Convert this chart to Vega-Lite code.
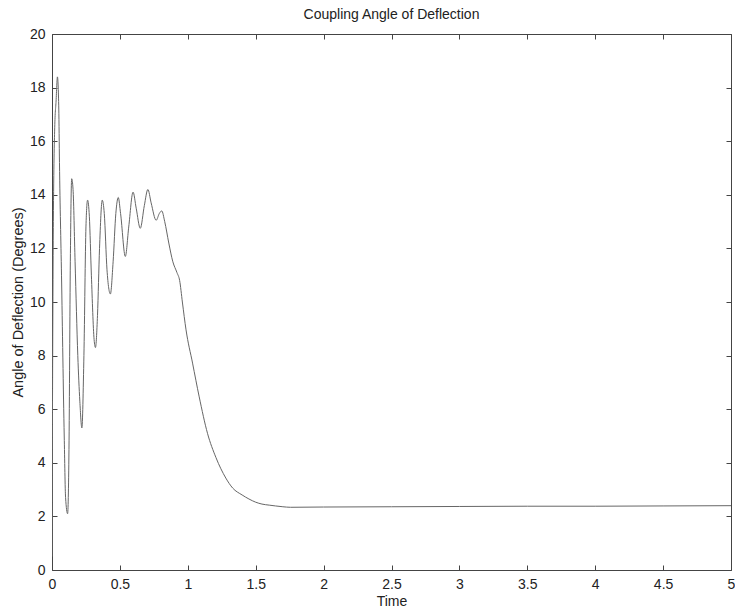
{
  "$schema": "https://vega.github.io/schema/vega-lite/v6.json",
  "width": 679,
  "height": 536,
  "autosize": {"type": "none"},
  "padding": {"left": 52, "top": 34, "right": 4, "bottom": 39},
  "background": "white",
  "title": {"text": "Coupling Angle of Deflection", "fontSize": 14, "fontWeight": "normal", "font": "Liberation Sans", "color": "#222", "offset": 5},
  "config": {
    "view": {"stroke": "#444", "strokeWidth": 1},
    "axis": {"grid": false, "domain": false, "tickColor": "#444", "tickSize": -5, "labelFont": "Liberation Sans", "labelFontSize": 14, "labelColor": "#222", "titleFont": "Liberation Sans", "titleFontSize": 14, "titleFontWeight": "normal", "titleColor": "#222"}
  },
  "data": {"values": [
    {"t": 0, "v": 0.5}, {"t": 0.005, "v": 8}, {"t": 0.01, "v": 13}, {"t": 0.02, "v": 16.5}, {"t": 0.03, "v": 17.5}, {"t": 0.04, "v": 18.4}, {"t": 0.05, "v": 17.2}, {"t": 0.055, "v": 15.2}, {"t": 0.07, "v": 11}, {"t": 0.09, "v": 5}, {"t": 0.1, "v": 2.7}, {"t": 0.115, "v": 2.1}, {"t": 0.125, "v": 4.5}, {"t": 0.135, "v": 11.5}, {"t": 0.145, "v": 14.6}, {"t": 0.155, "v": 14.2}, {"t": 0.17, "v": 11.5}, {"t": 0.19, "v": 8}, {"t": 0.205, "v": 6.3}, {"t": 0.22, "v": 5.3}, {"t": 0.235, "v": 8}, {"t": 0.25, "v": 12.8}, {"t": 0.262, "v": 13.8}, {"t": 0.275, "v": 13.2}, {"t": 0.29, "v": 11}, {"t": 0.31, "v": 8.6}, {"t": 0.32, "v": 8.3}, {"t": 0.335, "v": 9.5}, {"t": 0.35, "v": 12}, {"t": 0.37, "v": 13.8}, {"t": 0.385, "v": 13.3}, {"t": 0.405, "v": 11.2}, {"t": 0.43, "v": 10.3}, {"t": 0.45, "v": 11.5}, {"t": 0.47, "v": 13.3}, {"t": 0.488, "v": 13.9}, {"t": 0.505, "v": 13.3}, {"t": 0.54, "v": 11.7}, {"t": 0.565, "v": 12.8}, {"t": 0.597, "v": 14.1}, {"t": 0.62, "v": 13.5}, {"t": 0.65, "v": 12.75}, {"t": 0.68, "v": 13.6}, {"t": 0.706, "v": 14.2}, {"t": 0.73, "v": 13.7}, {"t": 0.767, "v": 13.05}, {"t": 0.79, "v": 13.3}, {"t": 0.808, "v": 13.4}, {"t": 0.83, "v": 13.0}, {"t": 0.86, "v": 12.2}, {"t": 0.89, "v": 11.5}, {"t": 0.92, "v": 11.1}, {"t": 0.94, "v": 10.8}, {"t": 0.96, "v": 10.0}, {"t": 0.987, "v": 8.96}, {"t": 1.035, "v": 7.72}, {"t": 1.084, "v": 6.46}, {"t": 1.145, "v": 5.1}, {"t": 1.207, "v": 4.2}, {"t": 1.28, "v": 3.43}, {"t": 1.33, "v": 3.06}, {"t": 1.4, "v": 2.8}, {"t": 1.45, "v": 2.65}, {"t": 1.5, "v": 2.53}, {"t": 1.546, "v": 2.46}, {"t": 1.6, "v": 2.42}, {"t": 1.646, "v": 2.39}, {"t": 1.7, "v": 2.36}, {"t": 1.756, "v": 2.34}, {"t": 2, "v": 2.35}, {"t": 2.5, "v": 2.36}, {"t": 3, "v": 2.37}, {"t": 3.5, "v": 2.38}, {"t": 4, "v": 2.38}, {"t": 4.5, "v": 2.39}, {"t": 5, "v": 2.4}
  ]},
  "layer": [
    {
      "mark": {"type": "line", "color": "#666", "strokeWidth": 1, "clip": true, "interpolate": "monotone"},
      "encoding": {
        "x": {"field": "t", "type": "quantitative", "scale": {"domain": [0, 5], "nice": false, "zero": false}, "axis": {"orient": "bottom", "title": "Time", "format": "~g", "values": [0, 0.5, 1, 1.5, 2, 2.5, 3, 3.5, 4, 4.5, 5], "labelPadding": 12, "titlePadding": 3, "labelFlush": false}},
        "y": {"field": "v", "type": "quantitative", "scale": {"domain": [0, 20], "nice": false}, "axis": {"orient": "left", "title": "Angle of Deflection (Degrees)", "titleFontSize": 14.5, "format": "~g", "values": [0, 2, 4, 6, 8, 10, 12, 14, 16, 18, 20], "labelPadding": 12, "titlePadding": 4, "labelFlush": false}}
      }
    },
    {
      "mark": {"type": "line", "strokeOpacity": 0},
      "encoding": {
        "x": {"field": "t", "type": "quantitative", "scale": {"domain": [0, 5], "nice": false, "zero": false}, "axis": {"orient": "top", "title": null, "labels": false, "values": [0, 0.5, 1, 1.5, 2, 2.5, 3, 3.5, 4, 4.5, 5]}},
        "y": {"field": "v", "type": "quantitative", "scale": {"domain": [0, 20], "nice": false}, "axis": {"orient": "right", "title": null, "labels": false, "values": [0, 2, 4, 6, 8, 10, 12, 14, 16, 18, 20]}}
      }
    }
  ],
  "resolve": {"axis": {"x": "independent", "y": "independent"}}
}
